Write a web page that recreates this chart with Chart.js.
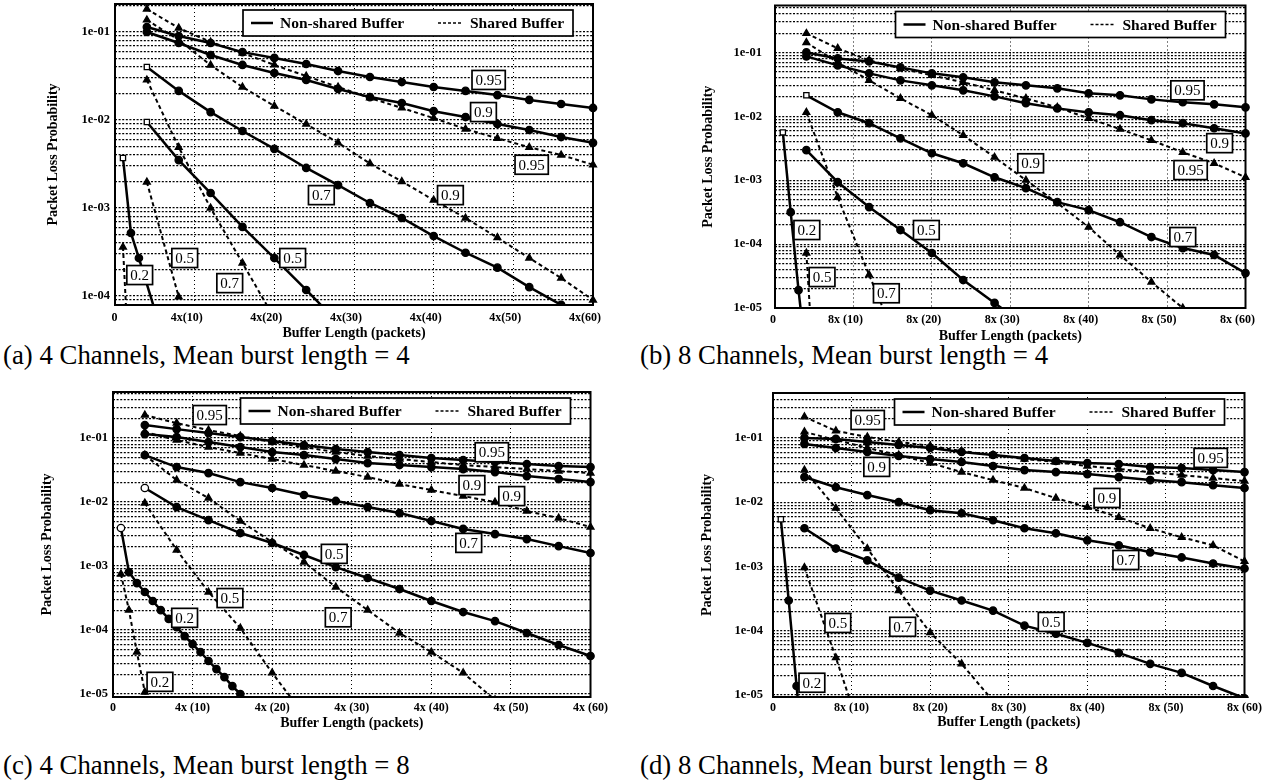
<!DOCTYPE html>
<html>
<head>
<meta charset="utf-8">
<script src="https://cdn.jsdelivr.net/npm/chart.js@4.4.1/dist/chart.umd.min.js"></script>
<style>
  html, body { margin: 0; padding: 0; background: #fff; width: 1270px; height: 783px; overflow: hidden; }
  body { position: relative; }
  canvas { position: absolute; }
  .cap { position: absolute; font-family: 'Liberation Serif', serif; font-size: 26.8px; line-height: 1; color: #000; white-space: nowrap; }
</style>
</head>
<body>
<div class="cap" style="left:3px;top:342px">(a) 4 Channels, Mean burst length = 4</div>
<div class="cap" style="left:640px;top:342px">(b) 8 Channels, Mean burst length = 4</div>
<div class="cap" style="left:3px;top:752px">(c) 4 Channels, Mean burst length = 8</div>
<div class="cap" style="left:640px;top:752px">(d) 8 Channels, Mean burst length = 8</div>
<script>
// ---- buffer lengths per channel (packets) ----
const bufStep4 = [4, 8, 12, 16, 20, 24, 28, 32, 36, 40, 44, 48, 52, 56, 60];
const bufStep1 = [1, 2, 3, 4, 5, 6, 7, 8, 9, 10, 11, 12, 13, 14, 15, 16, 17];
const bufA20 = [1, 2, 3, 5];
const xTickValues = [0, 10, 20, 30, 40, 50, 60];
const seriesNames = ['Non-shared Buffer', 'Shared Buffer'];

// ---- (a) 4 channels, mean burst length 4 ----
const a_ns95 = [0.114, 0.090, 0.075, 0.059, 0.0507, 0.0433, 0.036, 0.0308, 0.027, 0.0237, 0.0214, 0.0192, 0.0169, 0.0152, 0.0137];
const a_ns90 = [0.1, 0.075, 0.0548, 0.0422, 0.0342, 0.0285, 0.0225, 0.0182, 0.0156, 0.0126, 0.0108, 0.0090, 0.0077, 0.0064, 0.0055];
const a_ns70 = [0.040, 0.0214, 0.0123, 0.0075, 0.0047, 0.00285, 0.00182, 0.00114, 0.00077, 0.00048, 0.00031, 0.00021, 0.000126, 0.0000794, 0.00005];
const a_ns50 = [0.0095, 0.0035, 0.00148, 0.00061, 0.00027, 0.000117, 0.00005];
const a_ns20 = [0.0037, 0.00052, 0.00027, 0.000069];
const a_sh95 = [0.182, 0.111, 0.077, 0.0577, 0.0422, 0.0316, 0.0237, 0.0178, 0.0137, 0.0105, 0.0079, 0.0062, 0.0049, 0.0040, 0.0031];
const a_sh90 = [0.137, 0.081, 0.042, 0.0237, 0.0144, 0.0090, 0.0055, 0.0032, 0.0020, 0.00123, 0.00077, 0.00046, 0.00027, 0.00016, 0.00009];
const a_sh70 = [0.0285, 0.0049, 0.001, 0.000237, 0.000056];
const a_sh50 = [0.00197, 0.0000975];
const a_sh20 = [0.00036, 0.000006];
const a_labelText = ['0.95', '0.9', '0.95', '0.7', '0.9', '0.5', '0.5', '0.7', '0.2'];
const a_labelBuf  = [46.9, 46.25, 52.3, 25.9, 42.1, 22.3, 8.75, 14.4, 3.1];
const a_labelProb = [0.0285, 0.0123, 0.0031, 0.0014, 0.0014, 0.00027, 0.00027, 0.00014, 0.000173];

// ---- (b) 8 channels, mean burst length 4 ----
const b_ns95 = [0.1, 0.0806, 0.0723, 0.0583, 0.047, 0.0407, 0.034, 0.0305, 0.0274, 0.0229, 0.0213, 0.0184, 0.0166, 0.0154, 0.0138];
const b_ns90 = [0.0866, 0.0626, 0.047, 0.0365, 0.0305, 0.0255, 0.0205, 0.016, 0.0133, 0.0115, 0.0104, 0.0087, 0.0078, 0.0065, 0.0054];
const b_ns70 = [0.0213, 0.01155, 0.0078, 0.00453, 0.00264, 0.00184, 0.00111, 0.00075, 0.000453, 0.00034, 0.00022, 0.000129, 0.0000866, 0.0000676, 0.0000352];
const b_ns50 = [0.00295, 0.00093, 0.00038, 0.000166, 0.0000725, 0.0000274, 0.000012, 0.0000052];
const b_ns20 = [0.0056, 0.000316, 0.000019, 0.0000015];
const b_sh95 = [0.198, 0.1155, 0.075, 0.0562, 0.0437, 0.034, 0.0255, 0.0191, 0.0138, 0.0093, 0.0063, 0.0042, 0.00274, 0.00184, 0.00111];
const b_sh90 = [0.143, 0.0698, 0.0365, 0.0191, 0.0104, 0.00505, 0.00229, 0.001, 0.00044, 0.000184, 0.0000675, 0.0000255, 0.00001, 0.0000038];
const b_sh70 = [0.01155, 0.00054, 0.000033, 0.0000022];
const b_sh50 = [0.0000724, 1e-12];
const b_labelText = ['0.95', '0.9', '0.95', '0.9', '0.7', '0.5', '0.2', '0.5', '0.7'];
const b_labelBuf  = [52.6, 56.7, 53, 32.6, 52, 19.3, 4.06, 6, 14.2];
const b_labelProb = [0.0255, 0.0038, 0.00144, 0.00184, 0.000129, 0.000166, 0.000166, 0.0000305, 0.000017];

// ---- (c) 4 channels, mean burst length 8 ----
const c_ns95 = [0.1596, 0.138, 0.1197, 0.1036, 0.0897, 0.0777, 0.0673, 0.0604, 0.0542, 0.0487, 0.0453, 0.0422, 0.0392, 0.0365, 0.0352];
const c_ns90 = [0.1155, 0.1036, 0.0866, 0.0723, 0.0604, 0.0542, 0.047, 0.0407, 0.0379, 0.0352, 0.0328, 0.0294, 0.0255, 0.0229, 0.0205];
const c_ns70 = [0.0542, 0.0352, 0.0284, 0.0205, 0.0166, 0.0129, 0.0104, 0.00835, 0.00673, 0.00505, 0.0038, 0.00316, 0.00264, 0.00205, 0.0016];
const c_ns50 = [0.0166, 0.00835, 0.00523, 0.00328, 0.00229, 0.00149, 0.00096, 0.00065, 0.000437, 0.000284, 0.000191, 0.000138, 0.0000898, 0.0000583, 0.0000393];
const c_ns20 = [0.00393, 0.000805, 0.000542, 0.000393, 0.000284, 0.000205, 0.000149, 0.000111, 0.0000805, 0.0000603, 0.0000453, 0.0000328, 0.0000245, 0.0000184, 0.0000133, 0.00001, 0.0000075];
const c_sh95 = [0.2287, 0.1715, 0.1334, 0.1075, 0.0866, 0.0723, 0.0604, 0.0523, 0.047, 0.0422, 0.0379, 0.0352, 0.0328, 0.0305, 0.0284];
const c_sh90 = [0.124, 0.093, 0.0723, 0.0583, 0.047, 0.0379, 0.0305, 0.0246, 0.0191, 0.0154, 0.0124, 0.01, 0.00724, 0.00562, 0.00407];
const c_sh70 = [0.0542, 0.0221, 0.01155, 0.00505, 0.00237, 0.001155, 0.00047, 0.000205, 0.0000898, 0.0000453, 0.0000214, 0.0000081];
const c_sh50 = [0.00965, 0.00178, 0.000393, 0.000107, 0.0000214, 0.0000047];
const c_sh20 = [0.00075, 0.000205, 0.0000453, 0.0000107, 0.0000027];
const c_labelText = ['0.95', '0.95', '0.9', '0.9', '0.7', '0.5', '0.7', '0.5', '0.2', '0.2'];
const c_labelBuf  = [12.15, 47.6, 45.1, 50.1, 44.7, 27.8, 28.3, 14.7, 9.0, 5.9];
const c_labelProb = [0.229, 0.060, 0.0184, 0.0124, 0.0023, 0.00155, 0.000158, 0.000316, 0.000155, 0.0000155];

// ---- (d) 8 channels, mean burst length 8 ----
const d_ns95 = [0.1, 0.0964, 0.0866, 0.0777, 0.0698, 0.0604, 0.0542, 0.0487, 0.0437, 0.0407, 0.0392, 0.0352, 0.034, 0.0316, 0.0294];
const d_ns90 = [0.0806, 0.0698, 0.0604, 0.0523, 0.047, 0.0422, 0.0365, 0.0316, 0.0294, 0.0274, 0.0246, 0.0221, 0.0205, 0.0184, 0.0166];
const d_ns70 = [0.0246, 0.0171, 0.0129, 0.01, 0.0075, 0.00673, 0.00523, 0.00393, 0.00328, 0.00255, 0.00213, 0.00166, 0.00138, 0.00111, 0.00093];
const d_ns50 = [0.00393, 0.0019, 0.00124, 0.00067, 0.00042, 0.000295, 0.000205, 0.00012, 0.0000898, 0.0000646, 0.0000453, 0.0000305, 0.0000221, 0.0000138, 0.0000089];
const d_ns20 = [0.00542, 0.000295, 0.0000138, 0.00000065];
const d_sh95 = [0.213, 0.1285, 0.1036, 0.0866, 0.075, 0.0626, 0.0542, 0.047, 0.0422, 0.0365, 0.0328, 0.0294, 0.0264, 0.0237, 0.0213];
const d_sh90 = [0.124, 0.093, 0.0698, 0.0542, 0.0407, 0.0294, 0.0221, 0.0166, 0.01155, 0.00835, 0.00583, 0.00393, 0.00284, 0.00213, 0.0012];
const d_sh70 = [0.0316, 0.00806, 0.0019, 0.00042, 0.0000933, 0.0000305, 0.0000081];
const d_sh50 = [0.00096, 0.000038, 0.0000013];
const d_labelText = ['0.95', '0.9', '0.95', '0.9', '0.7', '0.5', '0.5', '0.7', '0.2'];
const d_labelBuf  = [12.05, 13.2, 55.7, 42.5, 44.9, 35.4, 8.25, 16.5, 4.95];
const d_labelProb = [0.19, 0.0354, 0.0489, 0.01164, 0.00126, 0.000137, 0.000132, 0.000115, 0.0000155];

// ---- drawing helpers ----
const SERIF = "'Liberation Serif', 'Times New Roman', serif";
const PAD = 20, YW = 80;

const points = (xs, ys) => ys.map((y, i) => ({ x: xs[i], y }));

function lineSet(xs, ys, shared, openFirst) {
  const n = ys.length;
  const style = shared ? 'triangle' : 'circle';
  const shapes = Array.from({ length: n }, (_, i) => (i === 0 && openFirst) ? openFirst : style);
  const fills = Array.from({ length: n }, (_, i) => (i === 0 && openFirst) ? '#fff' : '#000');
  return {
    label: shared ? seriesNames[1] : seriesNames[0],
    data: points(xs, ys),
    borderColor: '#000',
    borderWidth: shared ? 2 : 2.5,
    borderDash: shared ? [4, 3] : [],
    pointStyle: shapes,
    pointRadius: shared ? 4 : 3.7,
    pointBackgroundColor: fills,
    pointBorderColor: '#000',
    pointBorderWidth: 1.3,
    tension: 0,
    clip: { left: 6, right: 6, top: 2, bottom: 1 }
  };
}

function logTicks(min, max) {
  const out = [];
  for (let e = Math.floor(Math.log10(min)); e <= Math.ceil(Math.log10(max)); e++) {
    for (let m = 1; m <= 9; m++) {
      const v = m * Math.pow(10, e);
      if (v >= min * 0.9999 && v <= max * 1.0001) out.push({ value: v });
    }
  }
  return out;
}
const isDecade = v => Math.abs(Math.log10(v) - Math.round(Math.log10(v))) < 1e-6;

const framePlugin = {
  id: 'frame',
  afterDraw(chart) {
    const { ctx, chartArea: a } = chart;
    ctx.save();
    ctx.lineWidth = 2;
    ctx.strokeStyle = '#000';
    ctx.strokeRect(a.left, a.top, a.right - a.left, a.bottom - a.top);
    ctx.restore();
  }
};

const keyPlugin = {
  id: 'key',
  afterDraw(chart) {
    const { ctx, chartArea: a } = chart;
    const ds = chart.data.datasets;
    const nsName = ds.find(d => d.label === seriesNames[0]).label;
    const shName = ds.find(d => d.label === seriesNames[1]).label;
    const bw = 330, bh = 26, bx = a.right - 20 - bw, by = a.top + 6, cy = by + bh / 2;
    ctx.save();
    ctx.fillStyle = '#fff';
    ctx.fillRect(bx, by, bw, bh);
    ctx.strokeStyle = '#000';
    ctx.lineWidth = 1.7;
    ctx.strokeRect(bx, by, bw, bh);
    ctx.lineWidth = 2.5;
    ctx.beginPath(); ctx.moveTo(bx + 8, cy); ctx.lineTo(bx + 30, cy); ctx.stroke();
    ctx.lineWidth = 1.7;
    ctx.setLineDash([3, 2]);
    ctx.beginPath(); ctx.moveTo(bx + 195, cy); ctx.lineTo(bx + 218, cy); ctx.stroke();
    ctx.setLineDash([]);
    ctx.fillStyle = '#000';
    ctx.font = 'bold 15.5px ' + SERIF;
    ctx.textBaseline = 'middle';
    ctx.textAlign = 'left';
    ctx.fillText(nsName, bx + 37, cy + 1);
    ctx.fillText(shName, bx + 227, cy + 1);
    ctx.restore();
  }
};

const tagPlugin = {
  id: 'tags',
  afterDraw(chart, args, opts) {
    const { ctx, scales } = chart;
    ctx.save();
    ctx.font = '15px ' + SERIF;
    ctx.textAlign = 'center';
    ctx.textBaseline = 'middle';
    opts.text.forEach((t, i) => {
      const px = scales.x.getPixelForValue(opts.buf[i]);
      const py = scales.y.getPixelForValue(opts.prob[i]);
      const w = ctx.measureText(t).width + 7, h = 19;
      ctx.fillStyle = '#fff';
      ctx.fillRect(px - w / 2, py - h / 2, w, h);
      ctx.strokeStyle = '#000';
      ctx.lineWidth = 1.7;
      ctx.strokeRect(px - w / 2, py - h / 2, w, h);
      ctx.fillStyle = '#000';
      ctx.fillText(t, px, py + 1);
    });
    ctx.restore();
  }
};

function makePanel(p) {
  const canvas = document.createElement('canvas');
  const w = YW + (p.R - p.L) + 2 * PAD;
  const h = (p.B - p.T) + p.xh + 2 * PAD;
  canvas.width = w; canvas.height = h;
  canvas.style.width = w + 'px'; canvas.style.height = h + 'px';
  canvas.style.left = (p.L - YW - PAD) + 'px';
  canvas.style.top = (p.T - PAD) + 'px';
  document.body.appendChild(canvas);

  new Chart(canvas, {
    type: 'line',
    data: { datasets: p.datasets },
    options: {
      responsive: false,
      animation: false,
      devicePixelRatio: 1,
      events: [],
      layout: { padding: PAD },
      plugins: {
        legend: { display: false },
        tooltip: { enabled: false },
        tags: { text: p.tagText, buf: p.tagBuf, prob: p.tagProb }
      },
      scales: {
        x: {
          type: 'linear', min: 0, max: 60,
          afterBuildTicks: s => { s.ticks = xTickValues.map(v => ({ value: v })); },
          afterFit: s => { s.height = p.xh; },
          ticks: {
            autoSkip: false, maxRotation: 0, padding: p.xtp, color: '#000',
            labelOffset: p.xlo,
            font: { family: SERIF, size: 12, weight: 'bold' },
            callback: v => v === 0 ? p.zero : p.ch + 'x' + p.sep + '(' + v + ')'
          },
          grid: { color: '#000', lineWidth: 1, drawTicks: false },
          border: { display: false, dash: [1, 3] },
          title: {
            display: true, text: 'Buffer Length (packets)', color: '#000',
            font: { family: SERIF, size: 14, weight: 'bold' }, padding: { top: 0, bottom: 0 }
          }
        },
        y: {
          type: 'logarithmic', min: p.yMin, max: p.yMax,
          afterBuildTicks: s => { s.ticks = logTicks(p.yMin, p.yMax); },
          afterFit: s => { s.width = YW; },
          ticks: {
            autoSkip: false, padding: p.ytp, color: '#000',
            font: { family: SERIF, size: 12.5, weight: 'bold' },
            callback: v => isDecade(v) ? '1e-' + String(Math.round(-Math.log10(v))).padStart(2, '0') : ''
          },
          grid: { color: '#000', lineWidth: 1.2, drawTicks: false },
          border: { display: false, dash: [2, 1.6] },
          title: {
            display: true, text: 'Packet Loss Probability', color: '#000',
            font: { family: SERIF, size: 14, weight: 'bold' }, padding: { top: p.ytitle, bottom: 0 }
          }
        }
      }
    },
    plugins: [framePlugin, keyPlugin, tagPlugin]
  });
}

makePanel({
  L: 115, T: 4, R: 595, B: 305, xh: 37, xtp: 6, xlo: -8, zero: '     0', ytp: 5, ytitle: 10, ch: 4, sep: '',
  yMin: 7.9e-5, yMax: 0.208,
  datasets: [
    lineSet(bufStep4, a_ns95, false), lineSet(bufStep4, a_ns90, false),
    lineSet(bufStep4, a_ns70, false, 'rect'), lineSet(bufStep4, a_ns50, false, 'rect'),
    lineSet(bufA20, a_ns20, false, 'rect'),
    lineSet(bufStep4, a_sh95, true), lineSet(bufStep4, a_sh90, true),
    lineSet(bufStep4, a_sh70, true), lineSet(bufStep4, a_sh50, true),
    lineSet(bufStep1, a_sh20, true)
  ],
  tagText: a_labelText, tagBuf: a_labelBuf, tagProb: a_labelProb
});

makePanel({
  L: 775, T: 5, R: 1248, B: 308, xh: 37, xtp: 5, xlo: -8, zero: '    0', ytp: 13, ytitle: 5, ch: 8, sep: ' ',
  yMin: 1e-5, yMax: 0.542,
  datasets: [
    lineSet(bufStep4, b_ns95, false), lineSet(bufStep4, b_ns90, false),
    lineSet(bufStep4, b_ns70, false, 'rect'), lineSet(bufStep4, b_ns50, false),
    lineSet(bufStep1, b_ns20, false, 'rect'),
    lineSet(bufStep4, b_sh95, true), lineSet(bufStep4, b_sh90, true),
    lineSet(bufStep4, b_sh70, true), lineSet(bufStep4, b_sh50, true)
  ],
  tagText: b_labelText, tagBuf: b_labelBuf, tagProb: b_labelProb
});

makePanel({
  L: 113, T: 392, R: 592, B: 697, xh: 35, xtp: 4, xlo: 0, zero: '0', ytp: 5, ytitle: 6, ch: 4, sep: ' ',
  yMin: 8.98e-6, yMax: 0.525,
  datasets: [
    lineSet(bufStep4, c_ns95, false), lineSet(bufStep4, c_ns90, false),
    lineSet(bufStep4, c_ns70, false), lineSet(bufStep4, c_ns50, false, 'circle'),
    lineSet(bufStep1, c_ns20, false, 'circle'),
    lineSet(bufStep4, c_sh95, true), lineSet(bufStep4, c_sh90, true),
    lineSet(bufStep4, c_sh70, true), lineSet(bufStep4, c_sh50, true),
    lineSet(bufStep1, c_sh20, true)
  ],
  tagText: c_labelText, tagBuf: c_labelBuf, tagProb: c_labelProb
});

makePanel({
  L: 773, T: 393, R: 1246, B: 697, xh: 34, xtp: 4, xlo: 0, zero: '0', ytp: 10, ytitle: 6, ch: 8, sep: ' ',
  yMin: 9.3e-6, yMax: 0.50,
  datasets: [
    lineSet(bufStep4, d_ns95, false), lineSet(bufStep4, d_ns90, false),
    lineSet(bufStep4, d_ns70, false), lineSet(bufStep4, d_ns50, false),
    lineSet(bufStep1, d_ns20, false, 'rect'),
    lineSet(bufStep4, d_sh95, true), lineSet(bufStep4, d_sh90, true),
    lineSet(bufStep4, d_sh70, true), lineSet(bufStep4, d_sh50, true)
  ],
  tagText: d_labelText, tagBuf: d_labelBuf, tagProb: d_labelProb
});
</script>
</body>
</html>
